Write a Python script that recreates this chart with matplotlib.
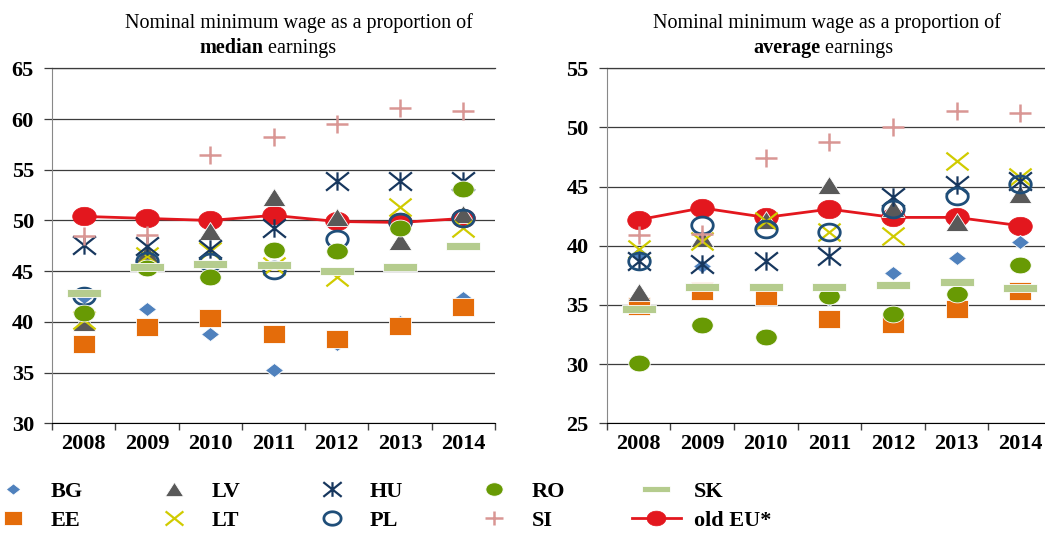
import matplotlib
matplotlib.use('Agg')
import matplotlib.pyplot as plt
import numpy as np
from matplotlib.path import Path

plt.rcParams['font.family'] = ['Liberation Serif', 'DejaVu Serif']
plt.rcParams['font.weight'] = 'bold'

years = ['2008', '2009', '2010', '2011', '2012', '2013', '2014']
countries = ['BG', 'EE', 'LV', 'LT', 'HU', 'PL', 'RO', 'SI', 'SK', 'old EU*']

# proportion of median earnings
med_bg = [42.5, 41.3, 38.8, 35.3, 37.8, 40.0, 42.4]
med_ee = [37.8, 39.5, 40.4, 38.8, 38.3, 39.6, 41.5]
med_lv = [40.0, 46.8, 49.0, 52.3, 50.3, 48.0, 50.6]
med_lt = [40.2, 46.5, 47.0, 45.5, 44.4, 51.3, 49.3]
med_hu = [47.6, 47.5, 47.2, 49.3, 53.9, 53.9, 53.9]
med_pl = [42.6, 46.0, 45.9, 45.1, 48.2, 49.8, 50.2]
med_ro = [40.9, 45.3, 44.4, 47.1, 47.0, 49.3, 53.1]
med_si = [48.5, 48.6, 56.5, 58.2, 59.5, 61.1, 60.8]
med_sk = [42.8, 45.4, 45.7, 45.6, 45.0, 45.4, 47.5]
med_eu = [50.4, 50.2, 50.0, 50.5, 49.9, 49.8, 50.2]

# proportion of average earnings
avg_bg = [39.3, 38.3, 35.8, 35.5, 37.7, 39.0, 40.3]
avg_ee = [34.9, 36.2, 35.8, 33.8, 33.4, 34.7, 36.2]
avg_lv = [36.1, 40.7, 42.2, 45.1, 43.2, 42.0, 44.4]
avg_lt = [39.7, 40.4, 42.1, 41.2, 40.8, 47.2, 45.8]
avg_hu = [38.7, 38.5, 38.7, 39.1, 44.1, 45.1, 45.5]
avg_pl = [38.7, 41.8, 41.4, 41.2, 43.1, 44.2, 45.2]
avg_ro = [30.1, 33.3, 32.3, 35.8, 34.2, 35.9, 38.4]
avg_si = [40.9, 41.0, 47.4, 48.8, 50.0, 51.4, 51.2]
avg_sk = [34.7, 36.5, 36.5, 36.5, 36.7, 36.9, 36.4]
avg_eu = [42.2, 43.2, 42.4, 43.1, 42.4, 42.4, 41.7]

median = [med_bg, med_ee, med_lv, med_lt, med_hu, med_pl, med_ro, med_si, med_sk, med_eu]
average = [avg_bg, avg_ee, avg_lv, avg_lt, avg_hu, avg_pl, avg_ro, avg_si, avg_sk, avg_eu]

# marker shapes (a bit wider than tall, as in the original)
t = np.linspace(0, 2 * np.pi, 64)
ellipse = Path(np.column_stack([np.cos(t), 0.78 * np.sin(t)]), closed=True)
diamond = Path([(-1, 0), (0, 0.78), (1, 0), (0, -0.78), (-1, 0)], closed=True)
square = Path([(-1, -0.78), (1, -0.78), (1, 0.78), (-1, 0.78), (-1, -0.78)], closed=True)
triangle = Path([(0, 0.78), (1, -0.78), (-1, -0.78), (0, 0.78)], closed=True)
bar = Path([(-1, -0.22), (1, -0.22), (1, 0.22), (-1, 0.22), (-1, -0.22)], closed=True)
M, L = Path.MOVETO, Path.LINETO
cross = Path([(-1, -0.8), (1, 0.8), (-1, 0.8), (1, -0.8)], [M, L, M, L])
plus = Path([(-1, 0), (1, 0), (0, -0.78), (0, 0.78)], [M, L, M, L])
star = Path([(-1, -0.8), (1, 0.8), (-1, 0.8), (1, -0.8), (0, -0.8), (0, 0.8)], [M, L, M, L, M, L])

styles = {
    'BG': dict(marker=diamond, ms=13, mfc='#4F81BD', mec='white', mew=0.6),
    'EE': dict(marker=square, ms=16.5, mfc='#E46C0A', mec='white', mew=0.6),
    'LV': dict(marker=triangle, ms=16.5, mfc='#595959', mec='white', mew=0.6),
    'LT': dict(marker=cross, ms=16, mfc='none', mec='#D0CB00', mew=1.6),
    'HU': dict(marker=star, ms=16.5, mfc='none', mec='#17375E', mew=1.6),
    'PL': dict(marker=ellipse, ms=15.5, mfc='none', mec='#1F4E79', mew=2.0),
    'RO': dict(marker=ellipse, ms=15.5, mfc='#689A04', mec='white', mew=0.6),
    'SI': dict(marker=plus, ms=16.5, mfc='none', mec='#D99694', mew=1.8),
    'SK': dict(marker=bar, ms=25, mfc='#B5CC8E', mec='white', mew=0.6),
    'old EU*': dict(marker=ellipse, ms=17, mfc='#E3171E', mec='#E3171E', mew=0.5,
                    color='#E3171E', lw=2.0),
}

W, H = 1045, 535
fig = plt.figure(figsize=(W / 100, H / 100), dpi=100)
ax1 = fig.add_axes([0.0498, 0.2088, 0.4239, 0.6635])
ax2 = fig.add_axes([0.5806, 0.2088, 0.4194, 0.6635])

grid_c = '#3c3c3c'


def draw_panel(ax, data, ylo, yhi, xmax):
    x = np.arange(len(years))
    # old EU drawn first, the countries on top of it
    order = [9] + list(range(9))
    handles = {}
    for z, i in enumerate(order):
        name = countries[i]
        st = dict(styles[name])
        if name != 'old EU*':
            st['ls'] = 'none'
        ln, = ax.plot(x, data[i], label=name, zorder=3 + z, clip_on=False, **st)
        handles[name] = ln
    ax.set_ylim(ylo, yhi)
    ax.set_xlim(-0.5, xmax)
    ax.set_yticks(range(ylo, yhi + 1, 5))
    ax.yaxis.grid(True, color=grid_c, lw=0.9)
    ax.set_axisbelow(True)
    ax.set_xticks(np.arange(-0.5, xmax + 0.01, 1.0))
    ax.set_xticklabels([])
    ax.set_xticks(x, minor=True)
    ax.set_xticklabels(years, minor=True)
    ax.tick_params(axis='x', which='major', direction='out', length=5, width=1, color='#444444')
    ax.tick_params(axis='x', which='minor', length=0, pad=8, labelsize=16)
    ax.tick_params(axis='y', direction='out', length=6, width=0.9, color=grid_c, pad=7, labelsize=16)
    ax.spines['right'].set_visible(False)
    ax.spines['top'].set_color(grid_c)
    ax.spines['top'].set_linewidth(0.9)
    ax.spines['left'].set_color('#888888')
    ax.spines['bottom'].set_color('black')
    return handles


h = draw_panel(ax1, median, 30, 65, 6.5)
draw_panel(ax2, average, 25, 55, 6.39)

renderer = fig.canvas.get_renderer()


def title(xc1, xc2, bold_word):
    fig.text(xc1 / W, 1 - 28 / H, 'Nominal minimum wage as a proportion of',
             ha='center', va='baseline', fontsize=14.5, weight='normal')
    t1 = fig.text(0, 1 - 53 / H, bold_word, va='baseline', fontsize=14.5, weight='bold')
    t2 = fig.text(0, 1 - 53 / H, ' earnings', va='baseline', fontsize=14.5, weight='normal')
    w1 = t1.get_window_extent(renderer).width
    w2 = t2.get_window_extent(renderer).width
    x0 = xc2 - (w1 + w2) / 2
    t1.set_x(x0 / W)
    t2.set_x((x0 + w1) / W)


title(299, 268, 'median')
title(827, 823, 'average')

fig.legend([h[c] for c in countries], countries, ncol=5, loc='upper left',
           bbox_to_anchor=(-0.011, 1 - 481 / H), frameon=False, fontsize=16,
           handlelength=2.2, handletextpad=0.6, columnspacing=3.0,
           borderaxespad=0, borderpad=0, labelspacing=0.4, markerscale=0.8)

fig.savefig('out.png', dpi=100)
